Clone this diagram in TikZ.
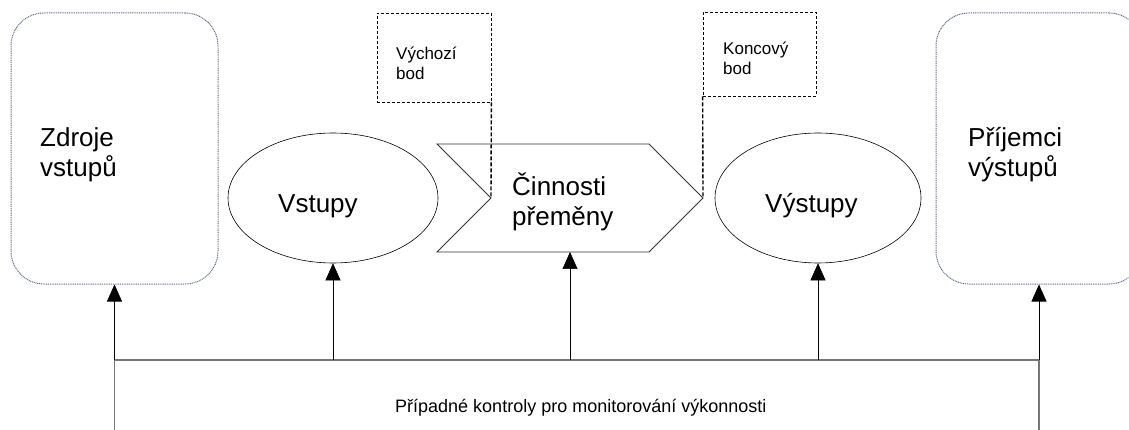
\documentclass[tikz,border=0pt]{standalone}
\usepackage{fontspec}
\setmainfont{Liberation Sans}
\usetikzlibrary{arrows.meta,shapes.geometric}
\definecolor{rimgray}{RGB}{95,110,135}
\definecolor{busgray}{RGB}{118,118,118}

\begin{document}
\begin{tikzpicture}[
  srcbox/.style    = {draw=rimgray, dash pattern=on 1pt off 0.8pt, line width=1pt, rounded corners=33pt, minimum height=271pt, inner sep=0pt},
  procell/.style   = {draw, ellipse, line width=0.6pt, minimum height=130pt, inner sep=0pt},
  ptbox/.style     = {draw, dash pattern=on 3pt off 2pt, line width=0.7pt, inner sep=0pt},
  bigtxt/.style    = {align=left, anchor=base west, inner sep=0pt, font=\fontsize{26}{30}\selectfont},
  smalltxt/.style  = {align=left, anchor=base west, inner sep=0pt, font=\fontsize{17}{20}\selectfont},
  ptlink/.style    = {dash pattern=on 4pt off 2pt, line width=1.4pt},
  buslink/.style   = {draw=busgray, line width=1.5pt},
  ctrlarrow/.style = {-{Triangle[length=17pt,width=15pt]}, line width=0.6pt},
  x=1pt, y=-1pt,
]
  \useasboundingbox (0,0) rectangle (1129,430);

  % sources and recipients (base = last line)
  \node[srcbox, minimum width=207pt] (zdroje)   at (114.5,148.5) {};
  \node[srcbox, minimum width=206pt] (prijemci) at (1039,148.5) {};
  \node[bigtxt] (tzdroje)   at (40,177)  {Zdroje\\vstupů};
  \node[bigtxt] (tprijemci) at (968,177) {Příjemci\\výstupů};

  % inputs and outputs
  \node[procell, minimum width=210pt] (vstupy)  at (333,198) {};
  \node[procell, minimum width=206pt] (vystupy) at (818,198) {};
  \node[bigtxt] (tvstupy)  at (278,213) {Vstupy};
  \node[bigtxt] (tvystupy) at (765,213) {Výstupy};

  % transformation
  \coordinate (cA)     at (437,144);
  \coordinate (cB)     at (649,144);
  \coordinate (cTip)   at (703,198);
  \coordinate (cC)     at (649,252);
  \coordinate (cD)     at (437,252);
  \coordinate (cNotch) at (491,198);
  \coordinate (cBase)  at (570,252);
  \draw[line width=0.8pt, draw=black!80] (cA) -- (cB) -- (cTip) -- (cC) -- (cD) -- (cNotch) -- cycle;
  \node[bigtxt] (tcinnosti) at (512,226) {Činnosti\\přeměny};

  % start and end points
  \node[ptbox, minimum width=114pt, minimum height=89pt] (vychozi) at (434,57.5) {};
  \node[ptbox, minimum width=113pt, minimum height=84pt] (koncovy) at (759.5,54) {};
  \node[smalltxt] (tvychozi) at (396,80) {Výchozí\\bod};
  \node[smalltxt] (tkoncovy) at (723,75) {Koncový\\bod};
  \draw[ptlink] (vychozi.south east) -- (cNotch);
  \draw[ptlink] (koncovy.south west) -- (cTip);

  % monitoring
  \coordinate (busL)    at (114.5,360);
  \coordinate (busR)    at (1039,360);
  \coordinate (busLend) at (114.5,430);
  \coordinate (busRend) at (1039,430);
  \draw[buslink] (busLend) -- (busL) -- (busR) -- (busRend);
  \draw[ctrlarrow] (busL) -- (zdroje.south);
  \draw[ctrlarrow] (vstupy.south |- busL) -- (vstupy.south);
  \draw[ctrlarrow] (cBase |- busL) -- (cBase);
  \draw[ctrlarrow] (vystupy.south |- busL) -- (vystupy.south);
  \draw[ctrlarrow] (busR) -- (prijemci.south);
  \node[anchor=base west, inner sep=0pt, font=\fontsize{18}{20}\selectfont] (kontroly) at (395,412) {Případné kontroly pro monitorování výkonnosti};
\end{tikzpicture}
\end{document}
